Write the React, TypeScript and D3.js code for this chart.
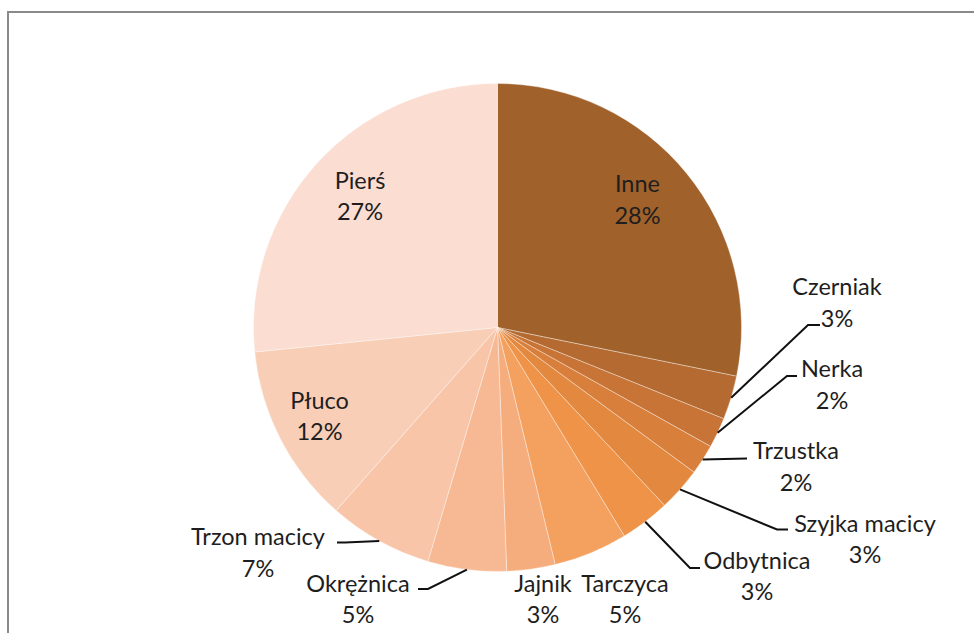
import React from "react";
import * as d3 from "d3";

const categories = [
  "Inne", "Czerniak", "Nerka", "Trzustka", "Szyjka macicy", "Odbytnica",
  "Tarczyca", "Jajnik", "Okrężnica", "Trzon macicy", "Płuco", "Pierś",
];
const values = [28.2, 2.9, 2.0, 2.0, 2.9, 3.3, 4.9, 3.2, 5.2, 6.9, 11.9, 26.6];
const colors = [
  "#A0612B", "#B46A30", "#C77436", "#D77F3B", "#E3883F", "#EE9347",
  "#F4A05F", "#F5AD7D", "#F7B993", "#F8C5A9", "#F9CEB7", "#FBDDD1",
];

// label layout: center x, first baseline y, optional leader elbow + end
type Lay = { x: number; y: number; elbow?: [number, number]; end?: [number, number] };
const layout: Lay[] = [
  { x: 637.5, y: 192 },
  { x: 837, y: 295, elbow: [808, 325], end: [820, 325] },
  { x: 832, y: 377, elbow: [787, 376], end: [797, 376] },
  { x: 796, y: 459, end: [747, 458.5] },
  { x: 865, y: 531.5, elbow: [777, 529.5], end: [788, 529.5] },
  { x: 757, y: 568.5, elbow: [690, 568], end: [700, 568] },
  { x: 625, y: 591.5 },
  { x: 543, y: 591.5 },
  { x: 358, y: 591.5, elbow: [428, 589], end: [418, 589] },
  { x: 258, y: 545, elbow: [345, 542.5], end: [337, 542.5] },
  { x: 319.5, y: 408.5 },
  { x: 360, y: 188.5 },
];

export default function App() {
  const W = 974, H = 633;
  const cx = 497.5, cy = 327.5, r = 244;
  const total = d3.sum(values);
  const pie = d3.pie<number>().sort(null).value((d) => d);
  const arcs = pie(values);
  const arc = d3.arc<d3.PieArcDatum<number>>().innerRadius(0).outerRadius(r);
  const lineH = 31.5;

  return (
    <svg width={W} height={H} style={{ position: "absolute", left: 0, top: 0, background: "#fff" }}
      fontFamily="Lato, 'Open Sans', sans-serif">
      <rect x={8} y={12} width={W + 20} height={H + 20} fill="#fff" stroke="#8a8a8a" strokeWidth={2} />
      <g transform={`translate(${cx},${cy})`}>
        {arcs.map((a, i) => (
          <path key={i} d={arc(a) || ""} fill={colors[i]} stroke="rgba(255,255,255,0.45)" strokeWidth={0.8} />
        ))}
      </g>
      {arcs.map((a, i) => {
        const L = layout[i];
        if (!L.end) return null;
        const mid = (a.startAngle + a.endAngle) / 2;
        const sx = cx + r * Math.sin(mid);
        const sy = cy - r * Math.cos(mid);
        const pts: [number, number][] = [[sx, sy]];
        if (L.elbow) pts.push(L.elbow);
        pts.push(L.end);
        return (
          <path key={"l" + i} d={d3.line()(pts) || ""} fill="none" stroke="#111" strokeWidth={2} />
        );
      })}
      {categories.map((c, i) => {
        const L = layout[i];
        const pct = Math.round((values[i] / total) * 100) + "%";
        return (
          <text key={"t" + i} x={L.x} y={L.y} textAnchor="middle" fontSize={23.5} fill="#1e1e1e">
            <tspan x={L.x} y={L.y}>{c}</tspan>
            <tspan x={L.x} y={L.y + lineH}>{pct}</tspan>
          </text>
        );
      })}
    </svg>
  );
}
